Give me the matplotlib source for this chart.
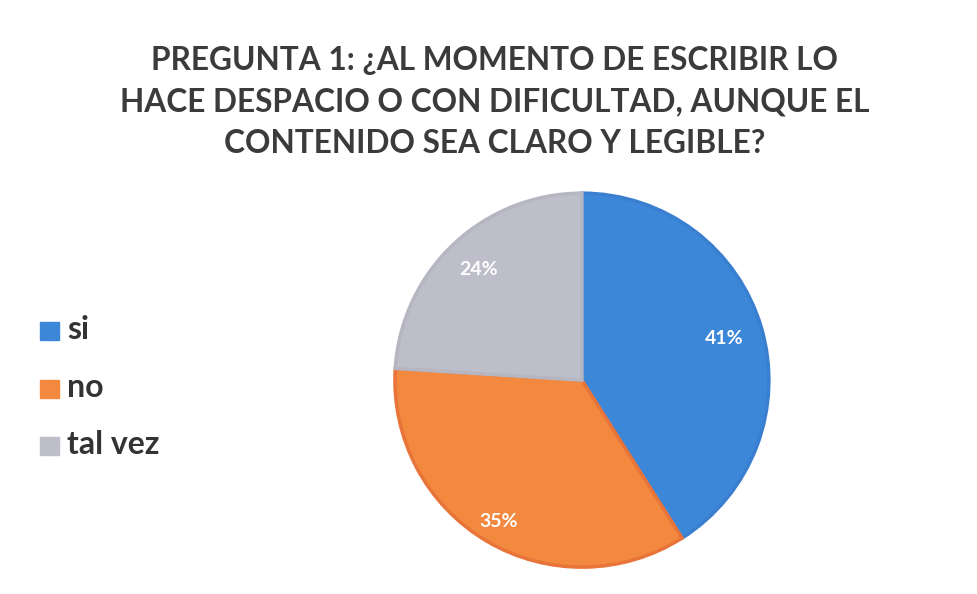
import matplotlib.pyplot as plt
import numpy as np

labels = ["si", "no", "tal vez"]
values = [41, 35, 24]
colors = ["#3d87d9", "#f2893f", "#bebeca"]
edge_colors = ["#3a7fcf", "#e9743a", "#b6b6c3"]
title = "PREGUNTA 1: ¿AL MOMENTO DE ESCRIBIR LO\nHACE DESPACIO O CON DIFICULTAD, AUNQUE EL\nCONTENIDO SEA CLARO Y LEGIBLE?"
label_dist = [0.79, 0.88, 0.81]

plt.rcParams['font.family'] = ['Lato', 'DejaVu Sans']

fig = plt.figure(figsize=(9.78, 5.94), dpi=100)
fig.patch.set_facecolor("white")

fig.text(0.506, 0.829, title, ha="center", va="center", fontsize=22.8,
         fontweight="bold", color="#3b3b3b", linespacing=1.52)

# pie
ax = fig.add_axes([0.595 - 0.1912, 0.36 - 0.3148, 0.3824, 0.6296])
wedges, _ = ax.pie(values, colors=colors, startangle=90, counterclock=False,
                   wedgeprops=dict(linewidth=2.5), radius=1.0)
for w, ec in zip(wedges, edge_colors):
    w.set_edgecolor(ec)
ax.set_xlim(-1.0, 1.0)
ax.set_ylim(-1.0, 1.0)
ax.set_aspect("equal")

total = sum(values)
start = 90.0
for v, d in zip(values, label_dist):
    mid = np.deg2rad(start - v / total * 180.0)
    ax.text(d * np.cos(mid), d * np.sin(mid), f"{v}%", ha="center", va="center",
            fontsize=14, fontweight="bold", color="white")
    start -= v / total * 360.0

# legend
leg_y = [0.445, 0.348, 0.252]
for lab, c, y in zip(labels, colors, leg_y):
    fig.patches.append(plt.Rectangle((0.041, y - 0.018), 0.019, 0.031, color=c,
                                     transform=fig.transFigure, figure=fig))
    fig.text(0.069, y, lab, ha="left", va="center", fontsize=23,
             fontweight="bold", color="#333333")

fig.savefig("out.png", dpi=100)
